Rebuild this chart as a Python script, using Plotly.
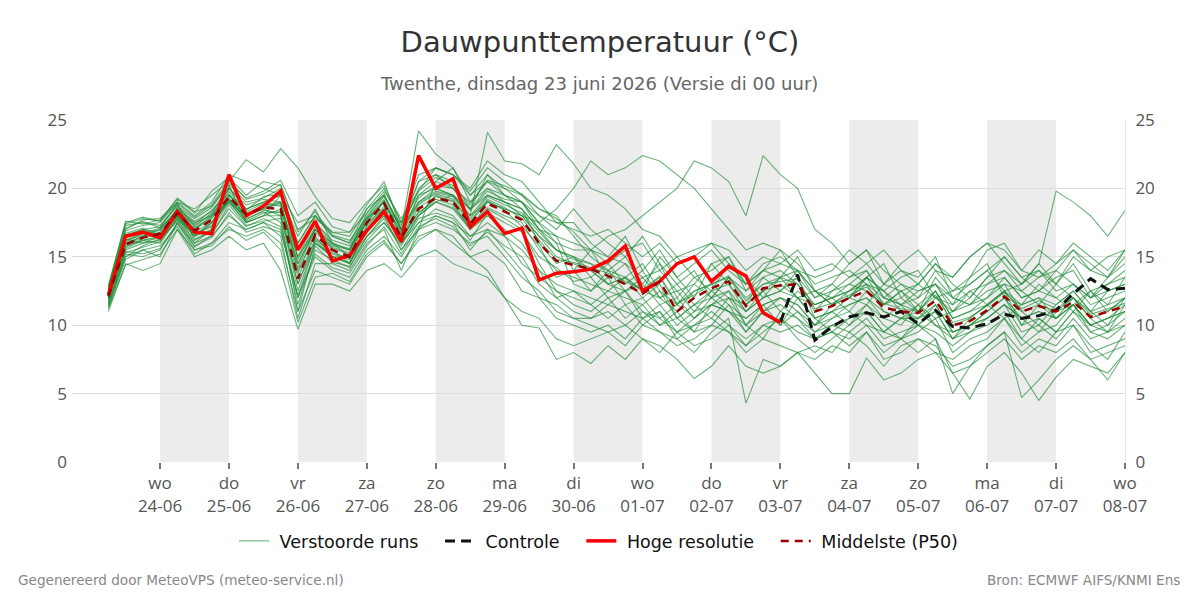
import pandas as pd
import plotly.graph_objects as go

times = pd.date_range("2026-06-23 06:00", periods=60, freq="6h")

hres = [12.2,16.5,16.8,16.4,18.3,16.8,16.7,21.0,18.0,18.7,19.8,15.5,17.6,14.7,
        15.1,16.9,18.3,16.1,22.4,20.0,20.7,17.2,18.3,16.7,17.1,13.3,13.8,13.9,
        14.1,14.7,15.8,12.5,13.2,14.5,15.0,13.2,14.3,13.6,10.9,10.2]

p50 = [12.1,15.9,16.4,16.7,18.2,16.9,17.7,19.4,18.1,18.6,18.5,13.4,16.6,15.5,
       15.0,17.5,18.9,16.4,18.5,19.3,19.0,17.4,18.9,18.3,17.7,16.0,14.7,14.4,
       14.1,13.6,13.0,12.3,13.2,11.0,12.0,12.7,13.2,11.4,12.7,12.9,13.0,11.0,
       11.4,12.0,12.5,11.3,11.0,10.9,11.8,10.0,10.3,11.1,12.1,11.0,11.4,11.0,11.7,10.6,11.0,11.4]

control_start = 39
control = [10.2,13.7,8.9,9.9,10.6,10.9,10.6,11.0,10.1,11.1,9.9,9.8,10.1,10.8,10.5,10.7,11.1,12.3,13.4,12.6,12.7]

members = [
 [12.8,17.5,17.9,17.6,19.0,18.5,19.5,20.5,22.1,21.2,22.9,21.5,19.4,17.8, 17.5,19.0,20.2,17.5,21.0,21.5,21.0,19.5,20.5,20.0,19.0,17.5,16.5,16.0, 15.5,15.0,14.5,13.5,14.0,12.5,13.0,14.5,15.0,13.0,14.0,14.5,14.0,12.0, 12.5,13.0,14.0,12.0,11.5,12.5,13.0,11.0,11.5,12.0,13.5,12.0,12.5,12.0,13.0,11.5,12.0,12.5],
 [12.0,15.5,16.0,16.5,18.0,16.5,17.5,19.5,18.0,18.5,19.0,16.0,18.0,16.5, 16.0,18.5,19.5,17.0,24.2,22.5,21.5,19.0,20.0,19.0,18.5,17.0,15.5,15.0, 14.0,13.0,13.5,12.0,13.0,10.5,11.5,12.5,13.0,11.0,12.0,12.5,13.5,10.5, 11.0,12.0,13.0,11.0,10.5,10.0,11.5,9.5,10.0,11.0,12.0,10.5,11.0,10.5,11.5,10.0,10.5,11.0],
 [12.3,16.0,16.5,17.0,18.5,17.0,18.0,19.0,17.5,18.0,18.5,14.5,17.0,16.0, 15.5,17.5,19.0,16.5,19.5,20.0,19.5,18.0,24.1,22.0,21.8,21.0,23.2,21.8, 20.0,19.5,18.5,17.0,16.5,15.0,15.5,16.0,14.5,13.0,14.0,13.5,14.0,12.5, 12.0,12.5,13.5,11.5,12.0,11.0,12.5,10.5,11.0,12.0,13.0,11.0,11.5,11.0,12.0,10.5,11.0,12.0],
 [11.8,15.8,16.2,16.0,17.8,16.5,17.0,19.5,18.5,19.0,19.5,15.0,17.0,15.5, 14.5,17.0,18.5,16.0,18.0,19.5,19.0,17.0,19.0,18.5,18.0,17.5,18.5,20.0, 22.0,21.0,21.5,22.4,22.0,21.0,20.0,18.5,17.0,15.5,16.0,15.5,14.5,13.0, 13.5,14.0,13.0,12.5,13.5,14.0,12.0,12.5,13.0,14.0,12.5,13.0,14.0,12.5,13.0,12.0,12.5,13.0],
 [12.2,16.2,16.8,16.5,18.0,17.0,17.8,19.2,18.0,18.8,19.0,14.0,16.5,15.0, 15.0,17.0,18.0,16.5,18.0,19.0,19.5,18.5,19.5,19.0,18.5,17.0,16.0,15.5, 15.5,16.5,17.0,18.0,19.0,20.0,22.0,21.5,20.5,18.0,22.4,21.0,20.0,17.0, 16.0,14.5,15.5,13.0,14.0,13.5,15.0,12.0,13.0,14.0,15.0,13.5,14.0,13.0,14.5,12.5,13.0,13.5],
 [11.0,14.5,14.0,14.5,17.0,15.0,15.5,16.5,15.5,16.0,14.0,9.7,13.0,13.0, 12.5,14.0,14.5,13.5,15.0,15.5,14.5,14.0,13.5,12.0,11.0,10.5,9.0,8.5, 9.0,9.5,8.5,10.0,9.5,9.0,8.0,9.5,10.5,4.3,7.5,7.0,8.0,7.5, 8.5,8.0,9.5,7.5,8.0,9.0,8.5,7.0,7.5,8.5,9.5,8.0,9.0,8.5,10.0,8.0,8.5,9.0],
 [11.5,15.0,15.5,15.0,17.5,15.5,16.0,17.0,16.5,17.0,16.0,11.0,14.0,13.5, 13.0,15.0,16.0,14.5,16.5,17.0,16.0,15.0,14.0,12.0,10.0,9.8,7.5,8.0, 7.2,8.5,7.5,9.0,8.0,9.5,8.5,9.0,10.0,8.5,9.5,10.5,9.0,8.0, 9.0,10.0,11.0,9.5,9.0,10.5,11.0,9.0,9.5,10.5,11.5,9.5,10.0,9.0,10.5,9.0,9.5,10.0],
 [12.0,16.0,16.5,16.8,18.0,16.5,17.5,19.0,18.0,18.5,18.0,13.0,16.0,15.0, 14.5,16.5,17.5,16.0,17.5,18.0,17.5,16.5,17.0,15.5,14.0,12.0,11.5,10.5, 10.0,9.5,10.0,9.0,8.5,7.5,6.1,7.0,8.5,7.0,6.5,7.0,8.0,6.5, 5.0,5.0,7.6,6.0,6.5,7.5,8.0,6.5,7.0,8.0,9.0,7.5,8.5,8.0,9.0,7.5,8.0,8.5],
 [12.4,16.5,17.0,16.5,18.5,17.5,18.0,20.0,18.5,19.0,19.5,15.5,17.5,16.0, 15.5,18.0,19.5,17.0,19.0,20.0,19.5,18.0,19.0,18.5,18.0,16.5,15.0,14.5, 14.0,13.0,12.5,13.5,12.0,11.0,12.5,13.0,12.0,11.5,12.5,13.0,12.0,11.5, 12.0,13.0,12.5,11.5,12.5,13.0,12.0,11.0,12.0,13.5,14.0,13.0,14.5,19.8,19.0,18.0,16.5,18.4],
 [11.6,15.2,15.0,15.5,17.5,16.0,16.5,18.0,17.0,17.5,17.0,12.0,15.0,14.0, 13.5,15.5,16.5,15.0,17.0,17.5,17.0,16.0,16.5,15.0,13.5,12.5,11.0,10.5, 10.5,11.0,10.0,11.0,10.5,9.5,10.0,11.0,10.0,9.0,10.0,10.5,9.5,9.0, 9.5,9.0,10.0,8.5,9.0,8.0,9.0,6.5,4.6,7.0,8.0,6.5,4.5,6.2,7.5,7.0,6.5,8.0],
 [12.1,16.3,16.0,16.2,18.0,16.0,17.0,19.0,17.5,18.0,18.0,12.5,16.0,15.0, 14.5,17.0,18.5,16.0,18.0,19.0,18.5,17.0,18.0,17.0,16.0,14.0,13.0,12.5, 12.0,11.5,11.0,10.5,11.0,9.5,10.5,11.5,11.0,10.0,11.0,11.5,10.5,9.5, 10.0,9.5,10.5,9.0,9.5,10.0,9.0,5.0,7.0,8.5,9.5,4.7,6.0,7.5,8.5,7.5,6.0,8.0],
 [12.6,16.6,17.0,17.2,18.8,17.2,18.2,20.0,18.8,19.2,19.0,14.5,17.0,15.8, 15.5,17.8,19.2,17.0,19.0,19.8,19.5,18.0,19.5,19.0,18.0,16.5,15.5,15.0, 14.5,14.0,13.5,12.5,13.5,11.5,12.5,13.0,13.5,12.0,13.0,13.5,13.0,11.5, 12.0,12.5,13.0,12.0,11.5,11.0,12.5,10.5,11.0,11.5,12.5,11.5,12.0,11.5,12.5,11.0,11.5,12.0],
 [11.9,15.6,16.2,16.5,17.9,16.8,17.5,19.2,17.8,18.3,17.5,12.0,16.0,15.2, 14.8,17.2,18.5,16.2,18.3,19.0,18.6,17.2,18.6,18.0,17.5,15.5,14.0,13.5, 13.0,12.5,12.0,11.5,12.5,10.5,11.5,12.0,12.5,11.0,12.0,12.5,12.0,10.5, 11.0,11.5,12.0,11.0,10.5,10.5,11.5,9.5,10.0,10.5,11.5,10.5,11.0,10.5,11.5,10.0,10.5,11.0],
 [12.3,16.9,17.3,17.5,18.9,16.2,17.0,20.2,17.5,18.0,19.5,16.5,18.5,16.0, 15.0,16.5,17.8,15.5,17.0,20.5,21.5,19.5,21.0,20.0,19.5,18.0,17.0,18.5, 17.0,16.0,15.0,16.5,14.5,13.0,14.0,12.0,13.5,12.5,14.0,15.5,13.5,12.0, 13.0,14.5,15.5,14.0,13.0,12.0,14.0,13.5,15.0,16.0,14.5,13.0,14.5,13.0,15.0,14.0,13.5,15.5],
 [12.7,17.0,17.7,17.8,19.0,18.0,19.0,21.0,20.5,20.0,19.5,17.5,18.0,16.8, 16.5,18.5,20.0,17.5,20.5,21.0,20.0,18.5,21.0,19.5,18.5,16.0,14.5,15.0, 13.5,14.5,13.0,14.0,12.0,12.5,11.0,12.5,11.5,10.5,11.5,12.0,11.0,10.0, 11.5,12.0,13.5,12.5,11.0,10.5,12.0,11.5,13.5,14.5,12.0,11.5,13.0,12.0,11.0,12.5,11.5,13.5],
 [11.3,14.8,15.5,15.8,17.2,15.2,16.0,17.5,17.0,17.5,16.5,10.5,14.5,14.5, 14.0,16.0,17.0,14.0,17.0,18.0,17.5,15.5,17.0,16.5,14.5,13.5,12.5,11.5, 11.0,12.0,10.5,11.5,10.0,11.0,9.5,10.0,11.5,9.5,11.0,10.0,12.0,10.5, 9.5,10.5,11.5,10.0,9.0,10.0,9.5,8.5,9.5,10.0,11.0,9.0,10.5,9.5,11.0,9.5,9.0,10.0],
 [12.0,16.2,16.6,17.0,18.4,17.4,18.4,19.6,18.2,18.6,18.8,15.0,17.5,16.2, 15.8,17.5,18.5,17.5,19.5,20.5,20.0,19.0,20.5,19.5,19.0,17.0,16.5,14.0, 15.5,13.5,14.5,12.5,15.0,13.5,12.0,14.5,13.0,11.5,13.5,12.5,14.0,12.5, 13.0,12.0,11.5,13.0,12.5,11.0,13.5,12.0,11.5,13.0,14.0,12.5,11.5,13.0,12.0,11.0,12.5,13.0],
 [12.5,17.3,17.5,17.3,18.7,17.8,18.6,20.3,19.0,19.3,20.0,16.0,18.0,16.5, 16.0,17.8,19.0,16.8,20.0,21.0,20.5,18.5,20.0,19.5,19.0,18.0,17.5,17.0, 16.5,17.0,16.0,15.0,16.0,14.5,15.0,16.0,15.5,14.0,15.0,14.5,15.5,14.0, 14.5,13.5,14.5,15.5,14.0,13.0,14.5,13.5,15.0,16.0,15.5,14.0,15.5,14.5,16.0,15.0,14.0,15.5],
 [11.4,15.0,15.8,16.3,17.6,16.3,16.8,18.5,17.2,17.8,17.2,11.5,15.5,14.8, 14.2,16.5,18.0,15.5,17.5,18.5,18.0,16.5,17.5,16.5,15.5,14.0,12.0,12.5, 11.5,10.5,11.5,10.0,11.0,9.0,10.0,10.5,9.5,8.5,10.0,9.5,10.0,9.0, 9.5,8.5,9.5,8.0,9.0,9.5,10.5,8.0,9.0,9.5,10.5,8.5,9.5,10.0,11.5,9.5,10.0,11.0],
 [12.2,16.4,16.9,16.9,18.2,17.1,17.9,19.8,18.3,18.9,18.7,13.8,16.8,15.6, 15.2,17.6,19.0,16.4,18.8,19.6,19.2,17.6,19.2,18.6,17.8,16.2,14.8,14.6, 14.2,13.8,13.2,12.6,13.6,11.6,12.2,13.0,13.6,11.8,13.0,13.2,13.4,11.2, 11.6,12.2,12.8,11.6,11.2,11.0,12.2,10.2,10.6,11.4,12.4,11.2,11.8,11.2,12.0,10.8,11.2,11.6],
 [12.9,17.6,17.4,17.7,19.2,18.2,19.8,20.8,19.5,20.5,20.2,17.0,17.8,16.8, 16.8,18.2,19.8,17.8,19.8,21.5,21.0,20.0,22.0,21.0,20.5,19.0,17.5,17.5, 16.0,15.0,16.5,14.0,15.5,13.5,14.5,15.5,14.0,13.0,14.5,15.0,14.0,13.5, 14.0,15.5,14.5,13.0,14.5,15.5,14.0,12.5,13.5,15.5,16.0,14.0,13.5,14.5,15.5,14.0,15.0,15.5],
 [11.7,15.4,15.2,15.6,17.4,15.8,16.4,18.2,16.8,17.2,16.8,12.2,15.2,14.2, 13.8,15.8,17.2,15.2,17.2,17.8,17.2,15.8,16.8,15.8,15.0,13.0,12.0,11.0, 10.5,11.5,12.5,11.0,10.0,10.5,9.5,11.5,12.0,10.0,9.0,11.0,10.5,9.0, 10.0,10.5,11.0,9.5,10.5,11.5,10.0,9.5,10.0,11.0,12.0,10.0,10.5,9.5,11.0,10.0,9.5,10.5],
 [12.4,16.7,17.1,16.6,18.6,17.6,18.3,20.1,18.4,19.4,19.6,14.8,17.2,15.9, 15.6,18.2,19.6,16.9,19.3,20.2,20.0,18.4,19.8,19.2,19.0,17.4,16.0,13.0, 12.5,14.0,15.0,13.0,14.5,12.0,13.5,14.0,15.0,12.5,13.5,14.0,13.0,11.0, 12.5,13.5,14.0,12.0,13.0,12.5,13.0,11.5,12.5,13.0,13.5,12.0,12.5,13.5,14.0,12.0,13.0,14.0],
 [11.2,14.4,14.8,15.2,17.0,15.5,15.8,17.2,16.2,16.8,15.5,10.2,13.5,13.8, 13.2,15.2,16.2,14.5,16.2,17.0,16.5,15.0,15.5,14.5,12.5,12.0,10.5,10.0, 9.5,10.0,9.0,10.5,9.5,8.5,9.0,10.0,9.5,8.0,9.0,8.5,8.0,8.5, 8.0,9.5,8.5,7.0,8.5,9.0,8.0,7.5,8.5,9.0,10.5,9.0,8.0,9.5,10.0,8.5,7.5,9.5],
 [12.6,17.1,17.6,17.1,18.9,17.9,18.8,20.6,19.2,19.6,20.3,16.8,18.3,16.6, 16.2,17.9,19.4,17.3,19.8,20.8,20.2,18.8,20.6,20.2,19.6,18.5,17.8,16.8, 15.5,14.5,15.5,16.0,14.0,15.0,13.5,12.5,14.5,13.5,12.0,13.5,15.0,12.5, 11.5,12.5,13.5,14.5,12.0,13.0,14.5,13.0,12.0,13.5,15.0,13.5,12.5,14.0,13.0,12.0,13.5,14.5],
 [11.9,15.9,16.4,16.6,18.1,16.6,17.3,19.1,17.7,18.4,18.2,13.0,16.3,15.3, 14.9,17.3,18.7,16.1,18.6,19.4,19.1,17.5,19.1,18.4,17.2,15.8,13.5,14.0, 12.5,13.5,11.5,12.0,10.5,11.5,10.5,12.0,11.0,9.5,11.0,12.0,11.5,10.0, 10.5,11.5,12.0,10.5,11.5,10.0,11.0,9.0,10.5,11.5,12.5,10.0,11.5,10.5,12.0,10.5,9.5,11.5],
 [12.1,16.1,16.7,17.1,18.3,17.3,18.1,19.5,18.0,18.7,18.9,14.2,17.0,15.7, 15.3,17.7,19.1,16.7,18.9,19.7,19.4,17.8,19.4,18.8,18.2,16.8,15.5,14.8, 14.5,13.0,13.5,14.5,12.5,11.5,13.0,12.0,13.5,11.5,12.5,13.5,12.0,12.5, 11.5,12.0,13.5,12.5,11.5,12.0,13.0,12.0,11.5,12.5,13.0,12.5,13.5,14.0,15.5,14.5,13.5,15.0],
 [11.5,15.3,15.7,16.1,17.8,15.7,16.6,18.8,17.3,17.6,17.8,11.0,15.8,14.6, 14.3,16.2,17.5,15.8,17.8,18.2,17.8,16.2,18.2,17.5,16.8,15.0,14.2,13.2, 13.5,12.0,12.5,10.5,11.5,10.0,11.0,11.5,11.0,10.5,11.5,10.0,11.0,9.5, 10.5,11.0,10.0,9.5,10.5,11.0,10.0,9.0,10.0,10.5,11.5,10.5,9.5,11.0,11.5,10.0,10.5,11.5],
 [12.8,17.4,17.8,17.6,19.3,18.3,18.7,20.4,19.3,19.8,20.6,18.0,19.0,17.2, 16.8,18.8,20.5,17.0,20.5,21.5,21.0,19.8,21.5,20.5,19.5,18.5,18.0,16.5, 15.0,14.0,12.5,13.0,11.5,12.0,10.5,11.5,12.5,10.0,11.5,12.0,11.5,10.0, 11.0,10.0,11.5,10.5,10.0,11.5,12.5,10.0,10.5,11.5,12.5,11.0,10.0,11.5,12.5,11.0,10.0,12.0],
 [12.0,15.7,16.3,16.3,17.7,16.7,17.2,19.3,17.6,18.2,18.3,13.5,16.2,15.0, 14.6,17.0,18.2,16.6,18.2,19.2,18.8,17.0,18.5,17.8,17.0,14.5,12.5,12.0, 11.5,12.5,13.5,12.5,12.0,13.0,11.5,10.5,12.0,11.0,12.5,11.0,12.5,11.5, 12.0,11.0,12.5,11.5,12.5,11.5,10.5,11.0,12.5,11.5,10.5,11.5,12.0,10.5,11.5,12.5,11.0,12.0],
]

day_ticks = pd.date_range("2026-06-24", "2026-07-08", freq="D")
weekday_labels = ["wo","do","vr","za","zo","ma","di","wo","do","vr","za","zo","ma","di","wo"]
tick_text = [f"{w}<br>{d.strftime('%d-%m')}" for w, d in zip(weekday_labels, day_ticks)]
shade_starts = ["2026-06-24","2026-06-26","2026-06-28","2026-06-30","2026-07-02","2026-07-04","2026-07-06"]

lead = "\u00a0"
pad = "\u00a0" * 3
fig = go.Figure()
for k, m in enumerate(members):
    fig.add_trace(go.Scatter(
        x=times, y=m, mode="lines", name=lead + "Verstoorde runs" + pad,
        legendgroup="ens", showlegend=(k == 0),
        line=dict(color="rgba(30,140,55,0.66)", width=1.1), hoverinfo="skip"))

fig.add_trace(go.Scatter(x=times[control_start:], y=control, mode="lines", name=lead + "Controle" + pad,
                         line=dict(color="#111111", width=3, dash="10px,6px")))
fig.add_trace(go.Scatter(x=times[:len(hres)], y=hres, mode="lines", name=lead + "Hoge resolutie" + pad,
                         line=dict(color="#ff0000", width=3.5)))
fig.add_trace(go.Scatter(x=times, y=p50, mode="lines", name=lead + "Middelste (P50)",
                         line=dict(color="#990000", width=2.5, dash="8px,6px")))
# dummy trace to activate right axis
fig.add_trace(go.Scatter(x=[times[0]], y=[None], yaxis="y2", showlegend=False, hoverinfo="skip"))

shapes = []
for s in shade_starts:
    e = (pd.Timestamp(s) + pd.Timedelta(days=1))
    shapes.append(dict(type="rect", xref="x", yref="paper", x0=s, x1=e, y0=0, y1=1,
                       fillcolor="#ececec", line=dict(width=0), layer="between"))

fig.update_layout(
    width=1200, height=600,
    paper_bgcolor="white", plot_bgcolor="white",
    font=dict(family="Open Sans", color="#555555", size=16),
    margin=dict(l=72, r=75, t=120, b=138),
    title=dict(text="Dauwpunttemperatuur (°C)",
               x=0.5, xanchor="center", y=1 - 42 / 600, yanchor="middle",
               font=dict(family="DejaVu Sans", size=29, color="#333333")),
    shapes=shapes,
    xaxis=dict(type="date", range=["2026-06-22 17:20", "2026-07-08 00:00"],
               tickmode="array", tickvals=day_ticks, ticktext=tick_text,
               ticks="outside", ticklen=6, tickwidth=2, tickcolor="#777777",
               showgrid=False, zeroline=False, showline=False,
               tickfont=dict(size=17, color="#555555")),
    yaxis=dict(range=[0, 25], tickvals=[0,5,10,15,20,25], showgrid=True,
               gridcolor="#dddddd", gridwidth=1, zeroline=False,
               tickfont=dict(size=17, color="#555555"), ticks="", ticklabelstandoff=4),
    yaxis2=dict(range=[0, 25], tickvals=[0,5,10,15,20,25], overlaying="y", side="right",
                showgrid=False, zeroline=False, showline=True, linecolor="#e6e6e6",
                tickfont=dict(size=17, color="#555555"), ticklabelstandoff=6),
    legend=dict(orientation="h", x=0.5, xanchor="center", y=-0.231, yanchor="middle",
                font=dict(family="DejaVu Sans", size=17.5, color="#111111"), itemwidth=30),
    showlegend=True,
    annotations=[
        dict(text="Twenthe, dinsdag 23 juni 2026 (Versie di 00 uur)", xref="paper", yref="paper",
             x=0.5, xanchor="center", y=(462 - 84) / 342, yanchor="middle", showarrow=False,
             font=dict(family="DejaVu Sans", size=18, color="#666666")),
        dict(text="Gegenereerd door MeteoVPS (meteo-service.nl)", xref="paper", yref="paper",
             x=-0.0532, xanchor="left", y=-0.345, yanchor="middle", showarrow=False,
             font=dict(family="DejaVu Sans", size=13.6, color="#888888")),
        dict(text="Bron: ECMWF AIFS/KNMI Ens", xref="paper", yref="paper",
             x=1.0541, xanchor="right", y=-0.345, yanchor="middle", showarrow=False,
             font=dict(family="DejaVu Sans", size=13.6, color="#888888")),
    ],
)

fig.write_html("out.html")
